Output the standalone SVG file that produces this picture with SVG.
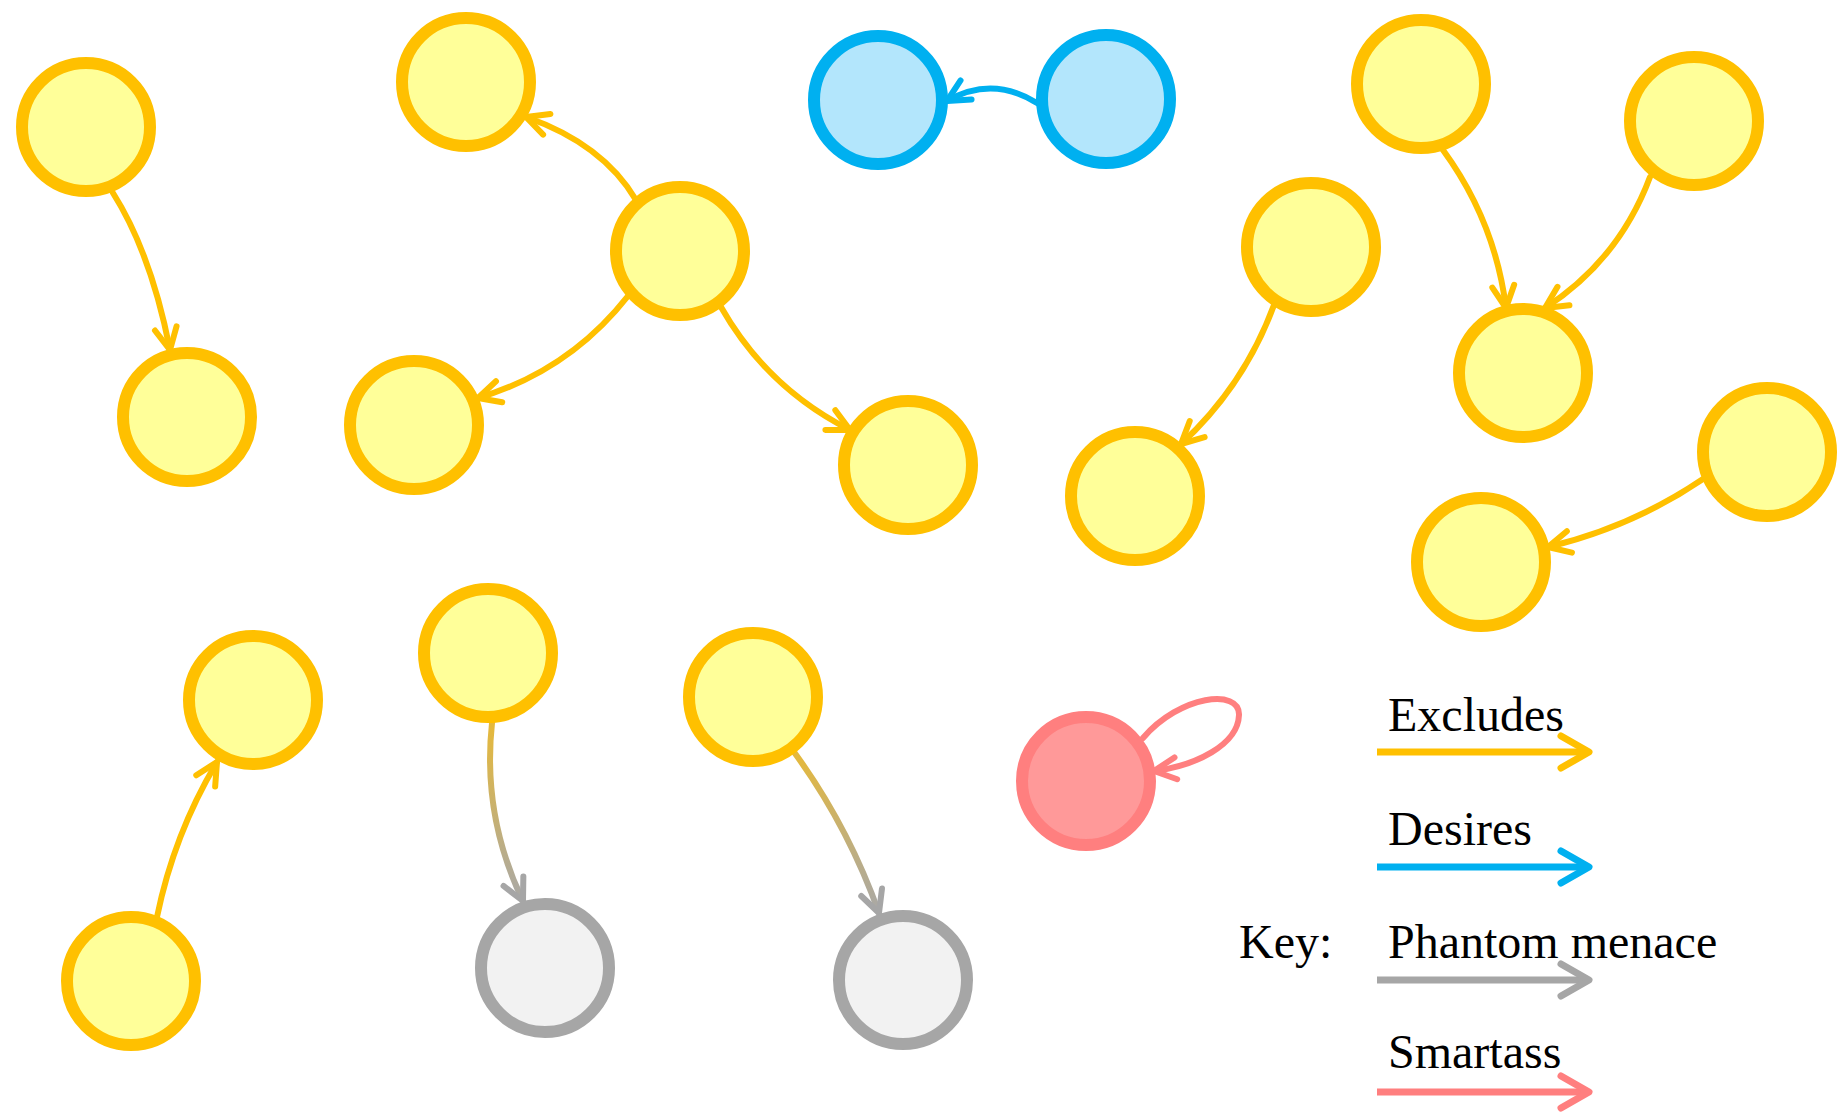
<svg xmlns="http://www.w3.org/2000/svg" width="1845" height="1117" viewBox="0 0 1845 1117">
<style>
.y{fill:#FFFF99;stroke:#FFC000;stroke-width:12}
.b{fill:#B3E6FC;stroke:#00B0F0;stroke-width:12}
.g{fill:#F2F2F2;stroke:#A6A6A6;stroke-width:12}
.r{fill:#FF9999;stroke:#FF7F7F;stroke-width:12}
.e{fill:none;stroke-width:6;stroke-linecap:round}
.ey{stroke:#FFC000;marker-end:url(#my)}
.eb{stroke:#00B0F0;marker-end:url(#mb)}
.er{stroke:#FF7F7F;marker-end:url(#mr)}
.l{fill:none;stroke-width:7;stroke-linecap:butt}
.lh{fill:none;stroke-width:7;stroke-linecap:round;stroke-linejoin:round}
text{font-family:"Liberation Serif","Times New Roman",serif;font-size:48px;fill:#000}
</style>
<defs>
<marker id="my" markerUnits="userSpaceOnUse" markerWidth="40" markerHeight="40" orient="auto" overflow="visible" refX="0" refY="0"><path d="M-22,-11 L0,0 L-22,11" fill="none" stroke="#FFC000" stroke-width="6" stroke-linecap="round" stroke-linejoin="round"/></marker>
<marker id="mb" markerUnits="userSpaceOnUse" markerWidth="40" markerHeight="40" orient="auto" overflow="visible" refX="0" refY="0"><path d="M-22,-11 L0,0 L-22,11" fill="none" stroke="#00B0F0" stroke-width="6" stroke-linecap="round" stroke-linejoin="round"/></marker>
<marker id="mg" markerUnits="userSpaceOnUse" markerWidth="40" markerHeight="40" orient="auto" overflow="visible" refX="0" refY="0"><path d="M-22,-11 L0,0 L-22,11" fill="none" stroke="#A6A6A6" stroke-width="6" stroke-linecap="round" stroke-linejoin="round"/></marker>
<marker id="mr" markerUnits="userSpaceOnUse" markerWidth="40" markerHeight="40" orient="auto" overflow="visible" refX="0" refY="0"><path d="M-22,-11 L0,0 L-22,11" fill="none" stroke="#FF7F7F" stroke-width="6" stroke-linecap="round" stroke-linejoin="round"/></marker>
<linearGradient id="gr1" gradientUnits="userSpaceOnUse" x1="492" y1="723" x2="523" y2="901"><stop offset="0" stop-color="#E6B93A"/><stop offset="1" stop-color="#A8A8A8"/></linearGradient>
<linearGradient id="gr2" gradientUnits="userSpaceOnUse" x1="794" y1="752" x2="879" y2="913"><stop offset="0" stop-color="#E6B93A"/><stop offset="1" stop-color="#A8A8A8"/></linearGradient>
</defs>
<g id="connectors">
<path class="e ey" d="M113,193 Q151,253 170,350"/>
<path class="e ey" d="M636,200 Q603,144 526,117"/>
<path class="e ey" d="M628,296 Q569,371 478,398"/>
<path class="e ey" d="M721,307 Q767,388 850,430"/>
<path class="e eb" d="M1037,103 Q992,75 947,101"/>
<path class="e ey" d="M1274,305 Q1244,386 1181,444"/>
<path class="e ey" d="M1443,150 Q1495,221 1506,308"/>
<path class="e ey" d="M1650,177 Q1619,260 1545,308"/>
<path class="e ey" d="M1703,479 Q1632,527 1548,547"/>
<path class="e ey" d="M157,917 Q174,834 217,762"/>
<path class="e" stroke="url(#gr1)" marker-end="url(#mg)" d="M492,723 Q482,816 523,901"/>
<path class="e" stroke="url(#gr2)" marker-end="url(#mg)" d="M794,752 Q848,826 879,913"/>
<path class="e er" d="M1143,738 C1180,695 1240,688 1239,715 C1238,745 1195,766 1154,771"/>
</g>
<g id="n1"><circle class="y" cx="86" cy="127" r="64"/></g>
<g id="n2"><circle class="y" cx="187" cy="417" r="64"/></g>
<g id="n3"><circle class="y" cx="466" cy="82" r="64"/></g>
<g id="n4"><circle class="y" cx="414" cy="425" r="64"/></g>
<g id="n5"><circle class="y" cx="680" cy="251" r="64"/></g>
<g id="n6"><circle class="y" cx="908" cy="465" r="64"/></g>
<g id="n7"><circle class="b" cx="878" cy="100" r="64"/></g>
<g id="n8"><circle class="b" cx="1106" cy="99" r="64"/></g>
<g id="n9"><circle class="y" cx="1311" cy="247" r="64"/></g>
<g id="n10"><circle class="y" cx="1135" cy="496" r="64"/></g>
<g id="n11"><circle class="y" cx="1421" cy="84" r="64"/></g>
<g id="n12"><circle class="y" cx="1694" cy="121" r="64"/></g>
<g id="n13"><circle class="y" cx="1523" cy="373" r="64"/></g>
<g id="n14"><circle class="y" cx="1767" cy="452" r="64"/></g>
<g id="n15"><circle class="y" cx="1481" cy="562" r="64"/></g>
<g id="n16"><circle class="y" cx="253" cy="700" r="64"/></g>
<g id="n17"><circle class="y" cx="131" cy="981" r="64"/></g>
<g id="n18"><circle class="y" cx="488" cy="653" r="64"/></g>
<g id="n19"><circle class="g" cx="545" cy="968" r="64"/></g>
<g id="n20"><circle class="y" cx="753" cy="697" r="64"/></g>
<g id="n21"><circle class="g" cx="903" cy="980" r="64"/></g>
<g id="n22"><circle class="r" cx="1086" cy="781" r="64"/></g>
<g id="legend">
<text x="1239" y="958">Key:</text>
<text x="1388" y="731">Excludes</text>
<path class="l" stroke="#FFC000" d="M1377,752 H1588"/>
<path class="lh" stroke="#FFC000" d="M1561,736 L1589,752 L1561,768"/>
<text x="1388" y="845">Desires</text>
<path class="l" stroke="#00B0F0" d="M1377,867 H1588"/>
<path class="lh" stroke="#00B0F0" d="M1561,851 L1589,867 L1561,883"/>
<text x="1388" y="958">Phantom menace</text>
<path class="l" stroke="#A6A6A6" d="M1377,980 H1588"/>
<path class="lh" stroke="#A6A6A6" d="M1561,964 L1589,980 L1561,996"/>
<text x="1388" y="1068">Smartass</text>
<path class="l" stroke="#FF7F7F" d="M1377,1092 H1588"/>
<path class="lh" stroke="#FF7F7F" d="M1561,1076 L1589,1092 L1561,1108"/>
</g>
</svg>
